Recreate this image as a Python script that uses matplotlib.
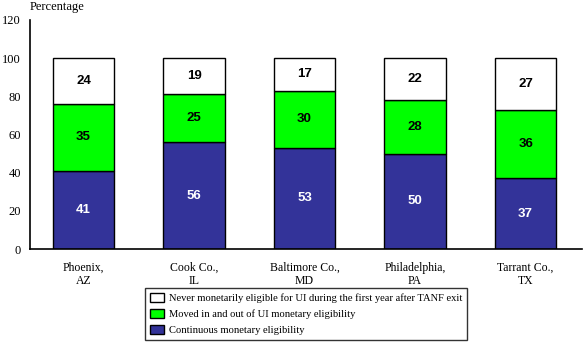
import matplotlib
matplotlib.use("Agg")
import matplotlib.pyplot as plt
import numpy as np
from matplotlib.patches import Patch

categories = ["Phoenix,\nAZ", "Cook Co.,\nIL", "Baltimore Co.,\nMD", "Philadelphia,\nPA", "Tarrant Co.,\nTX"]
continuous = [41, 56, 53, 50, 37]
moved = [35, 25, 30, 28, 36]
never = [24, 19, 17, 22, 27]
series_names = [
    "Never monetarily eligible for UI during the first year after TANF exit",
    "Moved in and out of UI monetary eligibility",
    "Continuous monetary eligibility",
]
yticks = [0, 20, 40, 60, 80, 100, 120]

navy = "#333399"
green = "#00FF00"
white = "#FFFFFF"

serif = ["Liberation Serif", "DejaVu Serif"]
sans = ["Liberation Sans", "DejaVu Sans"]

fig = plt.figure(figsize=(5.84, 3.44), dpi=100)
ax = fig.add_axes([30 / 584, 1 - 249 / 344, 552 / 584, 229 / 344])

x = np.arange(len(categories))
w = 0.555
ax.bar(x, continuous, w, color=navy, edgecolor="black", linewidth=1)
ax.bar(x, moved, w, bottom=continuous, color=green, edgecolor="black", linewidth=1)
bottom3 = np.array(continuous) + np.array(moved)
ax.bar(x, never, w, bottom=bottom3, color=white, edgecolor="black", linewidth=1)

for i in range(len(categories)):
    ax.text(x[i], continuous[i] / 2, str(continuous[i]), ha="center", va="center",
            color="white", fontweight="bold", family=sans, fontsize=9.5)
    ax.text(x[i], continuous[i] + moved[i] / 2, str(moved[i]), ha="center", va="center",
            color="black", fontweight="bold", family=sans, fontsize=9.5)
    ax.text(x[i], bottom3[i] + never[i] / 2, str(never[i]), ha="center", va="center",
            color="black", fontweight="bold", family=sans, fontsize=9.5)

ax.set_xlim(-0.484, 4.51)
ax.set_ylim(0, 120)
ax.set_yticks(yticks)
ax.set_yticklabels([str(t) for t in yticks], family=serif, fontsize=9)
ax.set_xticks(x)
ax.set_xticklabels(categories, family=serif, fontsize=8.5, linespacing=1.2)
ax.tick_params(axis="x", length=0, pad=9)
ax.tick_params(axis="y", length=0, pad=6.5)
for s in ["top", "right"]:
    ax.spines[s].set_visible(False)
for s in ["left", "bottom"]:
    ax.spines[s].set_linewidth(1.2)

fig.text(30 / 584, 1 - 7 / 344, "Percentage", family=serif, fontsize=9, va="center", ha="left")

handles = [
    Patch(facecolor=white, edgecolor="black", label=series_names[0]),
    Patch(facecolor=green, edgecolor="black", label=series_names[1]),
    Patch(facecolor=navy, edgecolor="black", label=series_names[2]),
]
leg = fig.legend(handles=handles, loc="center", bbox_to_anchor=(306 / 584, 1 - 314 / 344),
                 prop={"family": serif, "size": 7.6}, frameon=True, fancybox=False,
                 edgecolor="black", handlelength=1.3, handleheight=0.9, handletextpad=0.5,
                 labelspacing=0.55, borderpad=0.45, borderaxespad=0)
leg.get_frame().set_linewidth(1)

fig.savefig("out.png", dpi=100)
